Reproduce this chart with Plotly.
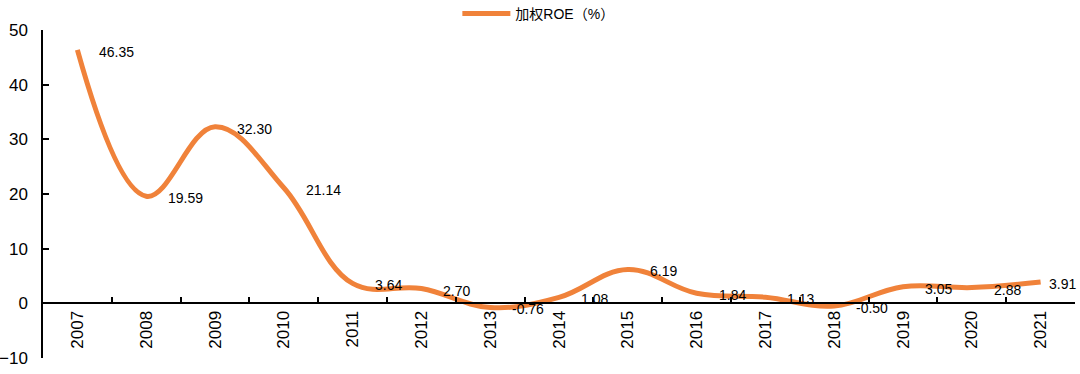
import plotly.graph_objects as go

years = [str(y) for y in range(2007, 2022)]
roe = [46.35, 19.59, 32.30, 21.14, 3.64, 2.70, -0.76, 1.08, 6.19, 1.84, 1.13, -0.50, 3.05, 2.88, 3.91]
labels = [f"{v:.2f}" for v in roe]
series_name = "加权ROE（%）"

orange = "#F0823A"
font_fam = "Liberation Sans, Arial, Noto Sans CJK SC, sans-serif"

fig = go.Figure()
fig.add_trace(go.Scatter(
    x=years, y=roe, mode="lines", name=series_name,
    line=dict(color=orange, width=5, shape="spline", smoothing=1.1),
    showlegend=True,
))

annotations = []
for i, (y, t) in enumerate(zip(roe, labels)):
    annotations.append(dict(
        x=i, y=y, xref="x", yref="y", text=t, showarrow=False,
        xanchor="left", yanchor="middle",
        xshift=6 if i == len(years) - 1 else 20, yshift=-2,
        font=dict(size=14, color="#000000", family=font_fam),
    ))

fig.update_layout(
    width=1080, height=374,
    margin=dict(l=43, r=5, t=30, b=16, autoexpand=False),
    paper_bgcolor="white", plot_bgcolor="white",
    font=dict(family=font_fam, color="#000000"),
    legend=dict(orientation="h", x=0.48, xanchor="center", y=1.0, yanchor="bottom",
                font=dict(size=14, family=font_fam), itemwidth=48),
    annotations=annotations,
    xaxis=dict(
        type="category", categoryorder="array", categoryarray=years,
        range=[-0.5, len(years) - 0.5], autorange=False, automargin=False,
        anchor="free", position=1/6,
        showline=True, linecolor="#000000", linewidth=1.5,
        ticks="inside", ticklen=6, tickcolor="#000000", tickwidth=1.5,
        tickson="boundaries", tickangle=-90,
        tickfont=dict(size=17, family=font_fam),
        showgrid=False, zeroline=False,
    ),
    yaxis=dict(
        range=[-10, 50], dtick=10, domain=[0, 1], automargin=False,
        showline=True, linecolor="#000000", linewidth=1.5,
        ticks="inside", ticklen=6, tickcolor="#000000", tickwidth=1.5,
        ticklabelstandoff=10,
        tickfont=dict(size=17, family=font_fam),
        showgrid=False, zeroline=False,
    ),
)

fig.write_html("out.html", config={"displayModeBar": False},
               post_script="document.body.style.margin='0';document.body.style.overflow='hidden';")
